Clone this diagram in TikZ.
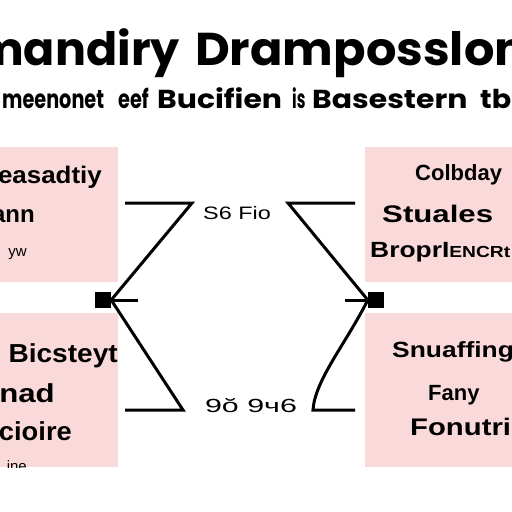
\documentclass[tikz,border=0pt]{standalone}
\usepackage{graphicx}
\usepackage{fontspec}
\setmainfont{Liberation Sans}
\newfontfamily\titlefont{Poppins}
\newcommand{\sxw}[2]{\scalebox{#1}[1]{#2}}
\definecolor{boxpink}{RGB}{249,217,217}
\tikzset{
  pinkbox/.style={fill=boxpink, draw=none},
  conn/.style={line width=3pt, line join=miter, line cap=butt},
  sqnode/.style={fill=black, minimum size=16pt, inner sep=0pt, draw=none},
  bigtitle/.style={inner sep=0pt, font=\titlefont\bfseries\fontsize{46}{46}\selectfont},
  subtitle/.style={inner sep=0pt, font=\titlefont\bfseries\fontsize{26}{26}\selectfont},
  boxtxt/.style={inner sep=0pt, font=\bfseries\fontsize{22}{22}\selectfont},
  boxbig/.style={inner sep=0pt, font=\bfseries\fontsize{24}{24}\selectfont},
  boxlarge/.style={inner sep=0pt, font=\bfseries\fontsize{26}{26}\selectfont},
  boxsmall/.style={inner sep=0pt, font=\fontsize{15}{15}\selectfont},
  lbl/.style={inner sep=0pt, font=\fontsize{18}{18}\selectfont}
}
\begin{document}
\begin{tikzpicture}[x=1pt,y=-1pt]
\useasboundingbox (0,0) rectangle (512,512);
\fill[white] (0,0) rectangle (512,512);
% title
\node[bigtitle, anchor=base east] (t1) at (180,65) {mandiry};
\node[bigtitle, anchor=base west] (t2) at (195,65) {\sxw{1.04}{Dramposslon}};
\node[subtitle, anchor=base west] (s1) at (2,108) {\sxw{0.74}{meenonet}};
\node[subtitle, anchor=base west] (s2) at (118,108) {\sxw{0.74}{eef}};
\node[subtitle, anchor=base west] (s3) at (157,108) {\sxw{1.15}{Bucifien}};
\node[subtitle, anchor=base west] (s4) at (292,108) {\sxw{0.6}{is}};
\node[subtitle, anchor=base west] (s5) at (312,108) {\sxw{1.15}{Basestern}};
\node[subtitle, anchor=base west] (s6) at (480,108) {\sxw{1.1}{tb}};
% boxes
\fill[pinkbox] (0,147) rectangle (118,282) coordinate (lt);
\fill[pinkbox] (0,313) rectangle (118,467) coordinate (lb);
\fill[pinkbox] (365,147) rectangle (512,282) coordinate (rt);
\fill[pinkbox] (365,313) rectangle (512,467) coordinate (rb);
% left top text
\node[boxbig, anchor=base east] (a1) at (102,183) {\sxw{1.08}{easadtiy}};
\node[boxbig, anchor=base east] (a2) at (35,222) {ann};
\node[boxsmall, anchor=base east] (a3) at (27,256) {yw};
% left bottom text
\node[boxlarge, anchor=base east] (b1) at (118,362) {\sxw{1.08}{Bicsteyt}};
\node[boxlarge, anchor=base east] (b2) at (55,402) {\sxw{1.2}{nad}};
\node[boxlarge, anchor=base east] (b3) at (72,440) {\sxw{1.05}{cioire}};
\begin{scope}
\clip (0,440) rectangle (118,467);
\node[boxsmall, anchor=base east] (b4) at (27,471) {ine};
\end{scope}
% right top text
\node[boxtxt, anchor=base west] (c1) at (415,180) {Colbday};
\node[boxbig, anchor=base west] (c2) at (382,222) {\sxw{1.3}{Stuales}};
\node[boxtxt, anchor=base west] (c3) at (370,257) {\sxw{1.2}{BroprI{\fontsize{16}{16}\selectfont ENCRt}}};
% right bottom text
\node[boxtxt, anchor=base west] (d1) at (392,357) {\sxw{1.2}{Snuaffing}};
\node[boxtxt, anchor=base west] (d2) at (428,400) {Fany};
\node[boxbig, anchor=base west] (d3) at (410,435) {\sxw{1.22}{Fonutri}};
% labels
\node[lbl] (l1) at (237,213) {\sxw{1.3}{S6 Fio}};
\node[lbl, font=\fontsize{19}{19}\selectfont] (l2) at (251,406) {\sxw{1.6}{9ŏ 9ч6}};
% squares
\node[sqnode] (sqL) at (103,300) {};
\node[sqnode] (sqR) at (376,300) {};
% connector coordinates
\coordinate (L1) at (125,203);
\coordinate (L2) at (192,203);
\coordinate (L3) at (183,410);
\coordinate (L4) at (125,410);
\coordinate (L5) at (138,300);
\coordinate (R1) at (355,203);
\coordinate (R2) at (288,203);
\coordinate (R3) at (313,410);
\coordinate (R4) at (355,410);
\coordinate (R5) at (345,300);
\draw[conn] (L1) -- (L2) -- (sqL.east) -- (L3) -- (L4);
\draw[conn] (sqL.east) -- (L5);
\draw[conn] (R1) -- (R2) -- (sqR.west);
\draw[conn] (sqR.west) .. controls (345,345) and (315,380) .. (R3) -- (R4);
\draw[conn] (sqR.west) -- (R5);
\end{tikzpicture}
\end{document}
